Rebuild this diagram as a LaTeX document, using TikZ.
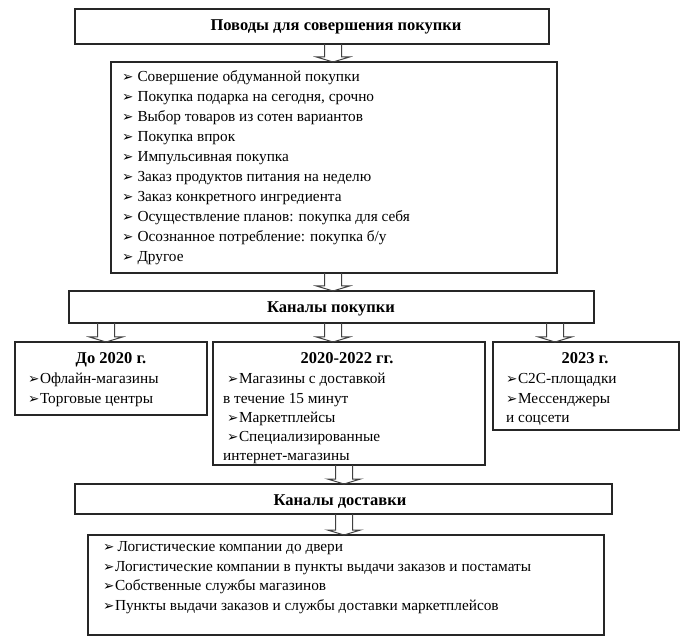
\documentclass[tikz,border=0pt]{standalone}
\usepackage{fontspec}
\setmainfont{Liberation Serif}
\newfontfamily\dejavu{DejaVu Sans}
\usetikzlibrary{calc}
\newcommand\bul{{\dejavu\fontsize{13.5}{13.5}\selectfont ➢}}
\tikzset{
  box/.style={draw=black!85, line width=1.1pt, anchor=north west, inner sep=0pt, outer sep=0pt},
  headtxt/.style={font=\fontsize{16.5}{18}\selectfont\bfseries, inner sep=0pt, anchor=base},
  txt/.style={font=\fontsize{15.3}{18}\selectfont, inner sep=0pt, anchor=base west},
  hollow/.style={draw=black!75, line width=1pt, line join=miter}
}
\newcommand\blockarrow[2]{\draw[hollow] let \p1=(#1), \p2=(#2.north) in
  (\x1-8.5pt,\y1) -- (\x1-8.5pt,\y2+5pt) -- (\x1-16.5pt,\y2+5pt) -- (\x1,\y2) --
  (\x1+16.5pt,\y2+5pt) -- (\x1+8.5pt,\y2+5pt) -- (\x1+8.5pt,\y1);}
\begin{document}
\begin{tikzpicture}[x=1pt,y=-1pt]
\useasboundingbox (0,0) rectangle (691,644);
% boxes
\node[box, minimum width=474, minimum height=35] (b1) at (75,9) {};
\node[box, minimum width=446, minimum height=211] (b2) at (111,62) {};
\node[box, minimum width=525, minimum height=32] (b3) at (69,291) {};
\node[box, minimum width=192, minimum height=73] (bl) at (15,342) {};
\node[box, minimum width=272, minimum height=123] (bm) at (213,342) {};
\node[box, minimum width=186, minimum height=88] (br) at (493,342) {};
\node[box, minimum width=537, minimum height=30] (b5) at (75,484) {};
\node[box, minimum width=516, minimum height=100] (b6) at (88,535) {};
% headings
\node[headtxt] (h1) at (336,31) {Поводы для совершения покупки};
\node[headtxt] (h3) at (331,313) {Каналы покупки};
\node[headtxt] (hl) at (111,363) {До 2020 г.};
\node[headtxt] (hm) at (347,363) {2020-2022 гг.};
\node[headtxt] (hr) at (585,363) {2023 г.};
\node[headtxt] (h5) at (340,505) {Каналы доставки};
% list of reasons
\foreach \t [count=\i] in {Совершение обдуманной покупки,
  {Покупка подарка на сегодня, срочно},
  Выбор товаров из сотен вариантов,
  Покупка впрок,
  Импульсивная покупка,
  Заказ продуктов питания на неделю,
  Заказ конкретного ингредиента,
  Осуществление планов: покупка для себя,
  Осознанное потребление: покупка б/у,
  Другое}
  \node[txt] (r\i) at (122,{82+19.9*(\i-1)}) {\bul\hspace{4pt}\t};
% left box
\node[txt] (l1) at (28,384) {\bul\hspace{0.5pt}Офлайн-магазины};
\node[txt] (l2) at (28,403) {\bul\hspace{0.5pt}Торговые центры};
% middle box
\node[txt] (m1) at (227,384) {\bul\hspace{0.5pt}Магазины с доставкой};
\node[txt] (m2) at (223,403) {в течение 15 минут};
\node[txt] (m3) at (227,422) {\bul\hspace{0.5pt}Маркетплейсы};
\node[txt] (m4) at (227,441) {\bul\hspace{0.5pt}Специализированные};
\node[txt] (m5) at (223,460) {интернет-магазины};
% right box
\node[txt] (q1) at (506,384) {\bul\hspace{0.5pt}C2C-площадки};
\node[txt] (q2) at (506,403) {\bul\hspace{0.5pt}Мессенджеры};
\node[txt] (q3) at (506,422) {и соцсети};
% delivery
\node[txt] (d1) at (103,551) {\bul\hspace{3pt}Логистические компании до двери};
\node[txt] (d2) at (103,571) {\bul\hspace{0.5pt}Логистические компании в пункты выдачи заказов и постаматы};
\node[txt] (d3) at (103,590) {\bul\hspace{0.5pt}Собственные службы магазинов};
\node[txt] (d4) at (103,610) {\bul\hspace{0.5pt}Пункты выдачи заказов и службы доставки маркетплейсов};
% arrows
\coordinate (t1) at ($(b1.south)+(21,0)$);
\coordinate (t2) at ($(b2.south)+(-1,0)$);
\coordinate (t3a) at ($(b3.south)+(-225.5,0)$);
\coordinate (t3b) at ($(b3.south)+(1.5,0)$);
\coordinate (t3c) at ($(b3.south)+(223.5,0)$);
\coordinate (t4) at ($(bm.south)+(-5,0)$);
\coordinate (t5) at ($(b5.south)+(0.5,0)$);
\blockarrow{t1}{b2}
\blockarrow{t2}{b3}
\blockarrow{t3a}{bl}
\blockarrow{t3b}{bm}
\blockarrow{t3c}{br}
\blockarrow{t4}{b5}
\blockarrow{t5}{b6}
\end{tikzpicture}
\end{document}
